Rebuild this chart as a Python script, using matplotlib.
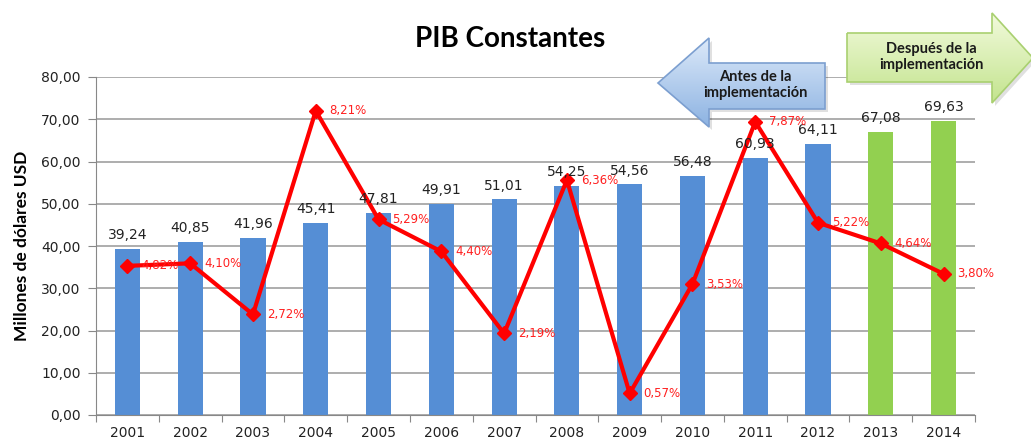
import numpy as np
import matplotlib
matplotlib.use("Agg")
import matplotlib.pyplot as plt
from matplotlib.patches import Polygon
from matplotlib.colors import LinearSegmentedColormap

# Datos del grafico
years = ["2001", "2002", "2003", "2004", "2005", "2006", "2007",
         "2008", "2009", "2010", "2011", "2012", "2013", "2014"]
pib = [39.24, 40.85, 41.96, 45.41, 47.81, 49.91, 51.01,
       54.25, 54.56, 56.48, 60.93, 64.11, 67.08, 69.63]
# posicion de la linea de crecimiento (leida sobre el eje principal)
growth_pos = [35.3, 35.9, 23.8, 72.0, 46.3, 38.7, 19.3,
              55.6, 5.1, 31.0, 69.4, 45.5, 40.6, 33.4]
growth_lbl = ["4,82%", "4,10%", "2,72%", "8,21%", "5,29%", "4,40%", "2,19%",
              "6,36%", "0,57%", "3,53%", "7,87%", "5,22%", "4,64%", "3,80%"]
before_n = 12  # anios antes de la implementacion

W, H = 1031, 443
fig = plt.figure(figsize=(W / 100, H / 100), dpi=100)
ax = fig.add_axes([96 / W, 1 - 415 / H, (975 - 96) / W, (415 - 77) / H])

x = np.arange(len(years))
colors = ["#558ED5" if i < before_n else "#92D050" for i in range(len(years))]
ax.bar(x, pib, width=0.4, color=colors, zorder=2)

for xi, v in zip(x, pib):
    ax.annotate(f"{v:.2f}".replace(".", ","), (xi, v), xytext=(0, 5),
                textcoords="offset points", ha="center", va="bottom",
                fontsize=10, color="#222222", zorder=5)

ax.plot(x, growth_pos, color="#FF0000", lw=3, marker="D", ms=7, zorder=4)
for xi, v, t in zip(x, growth_pos, growth_lbl):
    ax.annotate(t, (xi, v), xytext=(10, 0), textcoords="offset points",
                ha="left", va="center", fontsize=8.5, color="#FF2020", zorder=5)

ax.set_xlim(-0.5, len(years) - 0.5)
ax.set_ylim(0, 80)
ax.set_yticks(np.arange(0, 81, 10))
ax.set_yticklabels([f"{v:.2f}".replace(".", ",") for v in np.arange(0, 81, 10)],
                   fontsize=10, color="#222222")
ax.set_xticks(np.arange(-0.5, len(years), 1), minor=False)
ax.set_xticklabels([])
ax.set_xticks(x, minor=True)
ax.set_xticklabels(years, minor=True, fontsize=10, color="#222222")
ax.tick_params(axis="x", which="minor", length=0, pad=8)
ax.tick_params(axis="x", which="major", length=5, color="#888888")
ax.tick_params(axis="y", length=6, color="#888888", pad=5)
ax.grid(axis="y", color="#a0a0a0", lw=1.2, zorder=0)
for s in ["top", "right"]:
    ax.spines[s].set_visible(False)
ax.spines["left"].set_color("#888888")
ax.spines["bottom"].set_color("#888888")

ax.set_ylabel("Millones de dólares USD", fontsize=12.5, fontweight="bold",
              family="Lato", labelpad=8)

fig.text(510 / W, 1 - 39 / H, "PIB Constantes", ha="center", va="center",
         fontsize=20, fontweight="bold", family="Lato")

# flechas (capa en pixeles)
ov = fig.add_axes([0, 0, 1, 1], zorder=10)
ov.set_xlim(0, W)
ov.set_ylim(H, 0)
ov.axis("off")


def arrow(pts, c_top, c_bot, edge):
    shadow = Polygon([(px + 3, py + 3) for px, py in pts], closed=True,
                     fc="#000000", alpha=0.12, ec="none")
    ov.add_patch(shadow)
    poly = Polygon(pts, closed=True, fc="none", ec=edge, lw=1.2, zorder=3)
    ov.add_patch(poly)
    xs = [p[0] for p in pts]
    ys = [p[1] for p in pts]
    cmap = LinearSegmentedColormap.from_list("g", [c_top, c_bot])
    grad = np.linspace(0, 1, 100).reshape(-1, 1)
    im = ov.imshow(grad, cmap=cmap, aspect="auto", origin="upper",
                   extent=(min(xs), max(xs), max(ys), min(ys)), zorder=2)
    im.set_clip_path(poly)
    return poly


arrow([(658, 83), (709, 38), (709, 63), (825, 63), (825, 109), (709, 109), (709, 127)],
      "#dce9f9", "#8db3e2", "#7c9fd0")
ov.text(755, 85, "Antes de la\nimplementación", ha="center", va="center",
        fontsize=10.5, fontweight="bold", family="Lato", color="#1a1a1a",
        linespacing=1.15, zorder=5)
arrow([(847, 33), (992, 33), (992, 13), (1033, 58), (992, 103), (992, 82), (847, 82)],
      "#f2fadc", "#c3e48e", "#a9d070")
ov.text(931, 57, "Después de la\nimplementación", ha="center", va="center",
        fontsize=10.5, fontweight="bold", family="Lato", color="#1a1a1a",
        linespacing=1.15, zorder=5)
ov.set_xlim(0, W)
ov.set_ylim(H, 0)

fig.savefig("out.png", dpi=100)
